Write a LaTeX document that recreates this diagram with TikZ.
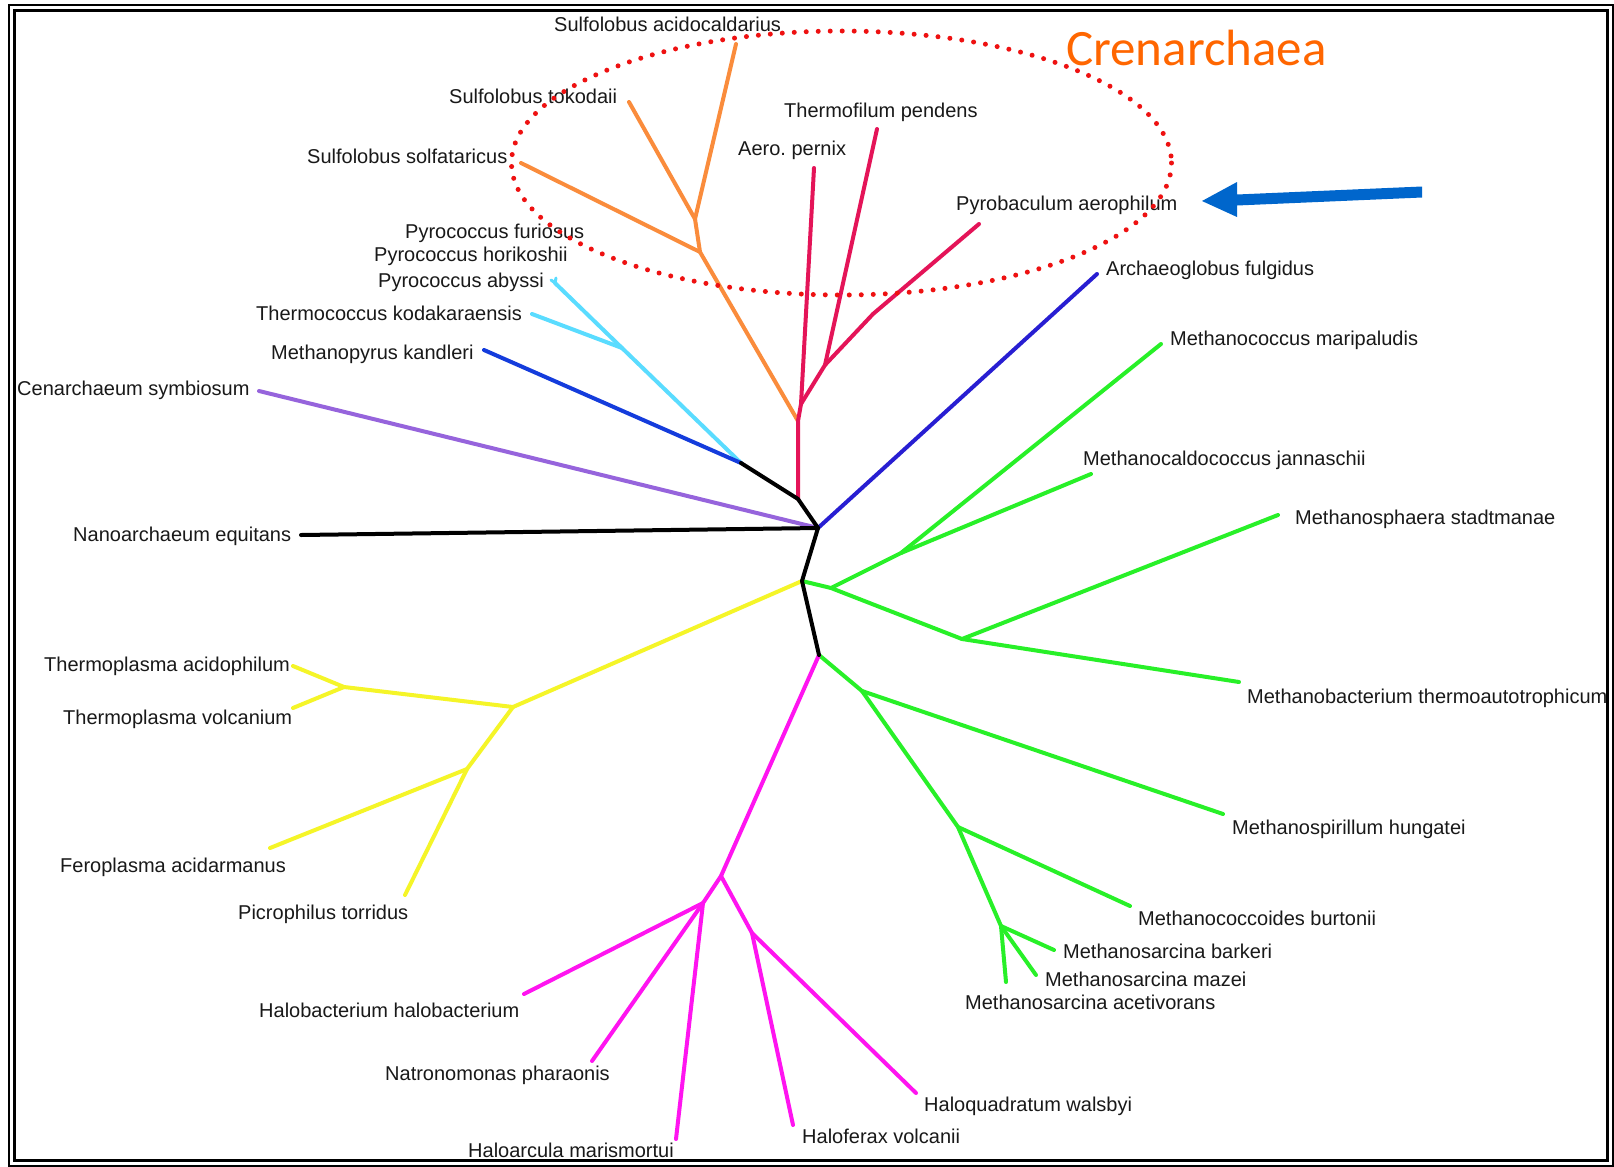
\documentclass[tikz,border=0pt]{standalone}
\usepackage{fontspec}
\setmainfont{Liberation Sans}
\newfontfamily\crenfont{Carlito}
\frenchspacing
\definecolor{crim}{RGB}{228,20,88}
\definecolor{orng}{RGB}{250,140,60}
\definecolor{cyn}{RGB}{90,220,255}
\definecolor{rblue}{RGB}{20,60,220}
\definecolor{ablue}{RGB}{40,30,210}
\definecolor{purp}{RGB}{150,100,220}
\definecolor{grn}{RGB}{40,240,40}
\definecolor{yel}{RGB}{245,245,40}
\definecolor{mag}{RGB}{255,20,240}
\definecolor{dotred}{RGB}{238,17,17}
\definecolor{arrblue}{RGB}{0,102,204}
\definecolor{crenorange}{RGB}{255,102,0}
\begin{document}
\begin{tikzpicture}[x=1pt,y=-1pt,
  br/.style={line width=4pt,line cap=round,line join=round},
  lab/.style={anchor=base west,inner sep=0pt,font=\fontsize{20}{24}\selectfont,text=black!90}]
\useasboundingbox (0,0) rectangle (1614,1167);
\fill[white] (0,0) rectangle (1614,1167);
% frame
\draw[line width=2pt] (9,5) rectangle (1612.5,1166);
\draw[line width=3pt] (14.7,10.7) rectangle (1607.3,1160.3);

% junctions
\coordinate (J0) at (741,463);
\coordinate (J1) at (798,499);
\coordinate (C1) at (818,528);
\coordinate (C2) at (802,581);
\coordinate (C3) at (819,655);
% red
\coordinate (R1) at (798,421);
\coordinate (R2) at (801,404);
\coordinate (AeroT) at (814,168);
\coordinate (R3) at (825,365);
\coordinate (ThermoT) at (877,129);
\coordinate (R4) at (873,314);
\coordinate (PyroT) at (979,224);
% orange
\coordinate (O1) at (700,252);
\coordinate (SsolT) at (521,163);
\coordinate (O2) at (695,219);
\coordinate (StokT) at (629,102);
\coordinate (SacT) at (736,44);
% cyan
\coordinate (K1) at (622,348);
\coordinate (PabyT) at (555,283);
\coordinate (TkodT) at (532,314);
% single tips
\coordinate (MkanT) at (484,350);
\coordinate (CsymT) at (259,391);
\coordinate (NanoT) at (301,535);
\coordinate (AfulT) at (1097,274);
% green upper
\coordinate (G1) at (831,588);
\coordinate (G2) at (901,553);
\coordinate (MmarT) at (1161,344);
\coordinate (MjanT) at (1091,474);
\coordinate (G3) at (962,639);
\coordinate (MstaT) at (1278,515);
\coordinate (MtheT) at (1239,682);
% green lower
\coordinate (G4) at (862,691);
\coordinate (MhunT) at (1223,814);
\coordinate (G5) at (958,827);
\coordinate (MburT) at (1130,906);
\coordinate (G6) at (1001,926);
\coordinate (MbarT) at (1054,950);
\coordinate (MmazT) at (1036,975);
\coordinate (MaceT) at (1006,982);
% yellow
\coordinate (Y1) at (513,707);
\coordinate (Y2) at (344,687);
\coordinate (TacT) at (293,666);
\coordinate (TvoT) at (293,708);
\coordinate (Y3) at (467,769);
\coordinate (FacT) at (270,848);
\coordinate (PtoT) at (405,895);
% magenta
\coordinate (M1) at (721,876);
\coordinate (M2) at (703,903);
\coordinate (HhalT) at (524,994);
\coordinate (NphT) at (592,1061);
\coordinate (HmarT) at (676,1139);
\coordinate (M3) at (752,933);
\coordinate (HvoT) at (793,1125);
\coordinate (HwaT) at (916,1093);

% branches
\draw[br,orng] (R1) -- (O1) -- (SsolT);
\draw[br,orng] (O1) -- (O2) -- (StokT);
\draw[br,orng] (O2) -- (SacT);
\draw[br,crim] (J1) -- (R1) -- (R2) -- (AeroT);
\draw[br,crim] (R2) -- (R3) -- (ThermoT);
\draw[br,crim] (R3) -- (R4) -- (PyroT);
\draw[br,cyn] (J0) -- (K1) -- (PabyT);
\draw[br,cyn] (K1) -- (TkodT);
\draw[br,cyn,line width=3pt] (PabyT) -- ++(-4,-3);
\draw[br,cyn,line width=3pt] (PabyT) -- ++(1,-5);
\draw[br,rblue] (J0) -- (MkanT);
\draw[br,purp] (C1) -- (CsymT);
\draw[br,ablue] (C1) -- (AfulT);
\draw[br,grn] (C2) -- (G1) -- (G2) -- (MmarT);
\draw[br,grn] (G2) -- (MjanT);
\draw[br,grn] (G1) -- (G3) -- (MstaT);
\draw[br,grn] (G3) -- (MtheT);
\draw[br,grn] (C3) -- (G4) -- (MhunT);
\draw[br,grn] (G4) -- (G5) -- (MburT);
\draw[br,grn] (G5) -- (G6) -- (MbarT);
\draw[br,grn] (G6) -- (MmazT);
\draw[br,grn] (G6) -- (MaceT);
\draw[br,yel] (C2) -- (Y1) -- (Y2) -- (TacT);
\draw[br,yel] (Y2) -- (TvoT);
\draw[br,yel] (Y1) -- (Y3) -- (FacT);
\draw[br,yel] (Y3) -- (PtoT);
\draw[br,mag] (C3) -- (M1) -- (M2) -- (HhalT);
\draw[br,mag] (M2) -- (NphT);
\draw[br,mag] (M2) -- (HmarT);
\draw[br,mag] (M1) -- (M3) -- (HvoT);
\draw[br,mag] (M3) -- (HwaT);
\draw[br,black] (NanoT) -- (C1);
\draw[br,black] (J0) -- (J1) -- (C1) -- (C2) -- (C3);

% labels
\node[lab] (SacL) at (554,31) {Sulfolobus acidocaldarius};
\node[lab] (StokL) at (449,103) {Sulfolobus tokodaii};
\node[lab] (SsolL) at (307,163) {Sulfolobus solfataricus};
\node[lab] (ThermoL) at (784,117) {Thermofilum pendens};
\node[lab] (AeroL) at (738,155) {Aero. pernix};
\node[lab] (PyroL) at (956,210) {Pyrobaculum aerophilum};
\node[lab] (PfurL) at (405,238) {Pyrococcus furiosus};
\node[lab] (PhorL) at (374,261) {Pyrococcus horikoshii};
\node[lab] (PabyL) at (378,287) {Pyrococcus abyssi};
\node[lab] (TkodL) at (256,320) {Thermococcus kodakaraensis};
\node[lab] (MkanL) at (271,359) {Methanopyrus kandleri};
\node[lab] (CsymL) at (17,395) {Cenarchaeum symbiosum};
\node[lab] (NanoL) at (73,541) {Nanoarchaeum equitans};
\node[lab] (AfulL) at (1106,275) {Archaeoglobus fulgidus};
\node[lab] (MmarL) at (1170,345) {Methanococcus maripaludis};
\node[lab] (MjanL) at (1083,465) {Methanocaldococcus jannaschii};
\node[lab] (MstaL) at (1295,524) {Methanosphaera stadtmanae};
\node[lab] (MtheL) at (1247,703) {Methanobacterium thermoautotrophicum};
\node[lab] (MhunL) at (1232,834) {Methanospirillum hungatei};
\node[lab] (MburL) at (1138,925) {Methanococcoides burtonii};
\node[lab] (MbarL) at (1063,958) {Methanosarcina barkeri};
\node[lab] (MmazL) at (1045,986) {Methanosarcina mazei};
\node[lab] (MaceL) at (965,1009) {Methanosarcina acetivorans};
\node[lab] (TacL) at (44,671) {Thermoplasma acidophilum};
\node[lab] (TvoL) at (63,724) {Thermoplasma volcanium};
\node[lab] (FacL) at (60,872) {Feroplasma acidarmanus};
\node[lab] (PtoL) at (238,919) {Picrophilus torridus};
\node[lab] (HhalL) at (259,1017) {Halobacterium halobacterium};
\node[lab] (NphL) at (385,1080) {Natronomonas pharaonis};
\node[lab] (HmarL) at (468,1157) {Haloarcula marismortui};
\node[lab] (HvoL) at (802,1143) {Haloferax volcanii};
\node[lab] (HwaL) at (924,1111) {Haloquadratum walsbyi};

% Crenarchaea highlight
\draw[dotred,line width=5pt,line cap=round,dash pattern=on 0pt off 12pt]
  (841.5,163) ellipse [x radius=330,y radius=132];
\node[anchor=base west,inner sep=0pt,text=crenorange,font=\crenfont\fontsize{51}{60}\selectfont] (Cren) at (1066,65) {Crenarchaea};

% blue arrow
\coordinate (ArrTip) at (1202,201);
\fill[arrblue] (ArrTip) -- (1237,182) -- (1237,194.5) -- (1422,186.5) -- (1422,197.5) -- (1237,205.5) -- (1237,217) -- cycle;
\end{tikzpicture}
\end{document}
